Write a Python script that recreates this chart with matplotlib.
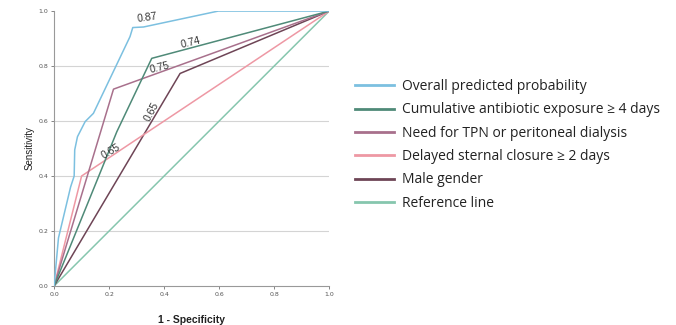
import numpy as np
import matplotlib
matplotlib.use("Agg")
import matplotlib.pyplot as plt
from matplotlib.lines import Line2D

# ROC curve data
overall_fpr = [0.0, 0.016, 0.06, 0.073, 0.075, 0.085, 0.113, 0.143, 0.276, 0.286, 0.325, 0.597, 1.0]
overall_tpr = [0.0, 0.175, 0.36, 0.40, 0.495, 0.543, 0.598, 0.628, 0.907, 0.94, 0.942, 1.0, 1.0]
abx_fpr = [0.0, 0.228, 0.355, 1.0]
abx_tpr = [0.0, 0.561, 0.828, 1.0]
tpn_fpr = [0.0, 0.216, 1.0]
tpn_tpr = [0.0, 0.716, 1.0]
sternal_fpr = [0.0, 0.1, 1.0]
sternal_tpr = [0.0, 0.4, 1.0]
male_fpr = [0.0, 0.458, 1.0]
male_tpr = [0.0, 0.773, 1.0]
ref_fpr = [0.0, 1.0]
ref_tpr = [0.0, 1.0]

names = ['Overall predicted probability',
         'Cumulative antibiotic exposure \u2265 4 days',
         'Need for TPN or peritoneal dialysis',
         'Delayed sternal closure \u2265 2 days',
         'Male gender',
         'Reference line']
colors = ['#7cc0e0', '#4f8a78', '#a8708c', '#ee98a4', '#6e4556', '#86c6ae']

# AUC labels: text, x, y, rotation
auc_text = ['0.87', '0.74', '0.75', '0.65', '0.65']
auc_x = [0.34, 0.495, 0.385, 0.355, 0.205]
auc_y = [0.975, 0.885, 0.795, 0.635, 0.49]
auc_rot = [8, 14, 14, 62, 30]

fig = plt.figure(figsize=(6.76, 3.25), dpi=100)
ax = fig.add_axes([0.08, 0.12, 0.407, 0.846])

series = [(overall_fpr, overall_tpr), (abx_fpr, abx_tpr), (tpn_fpr, tpn_tpr),
          (sternal_fpr, sternal_tpr), (male_fpr, male_tpr), (ref_fpr, ref_tpr)]
# draw reference first so it sits underneath
order = [5, 4, 3, 2, 1, 0]
for i in order:
    fx, ty = series[i]
    ax.plot(fx, ty, color=colors[i], lw=1.1, zorder=3)

for t, x, y, r in zip(auc_text, auc_x, auc_y, auc_rot):
    ax.text(x, y, t, fontsize=7.5, rotation=r, ha='center', va='center',
            color='#333333', family='Liberation Sans', zorder=4)

ax.set_xlim(0, 1)
ax.set_ylim(0, 1)
ticks = [0.0, 0.2, 0.4, 0.6, 0.8, 1.0]
ax.set_xticks(ticks)
ax.set_yticks(ticks)
ax.set_xticklabels(['%.1f' % t for t in ticks])
ax.set_yticklabels(['%.1f' % t for t in ticks])
ax.tick_params(labelsize=4.5, colors='#555555', length=2, width=0.5, pad=2)
for gy in [0.2, 0.4, 0.6, 0.8]:
    ax.axhline(gy, color='#d4d4d4', lw=0.8, zorder=1)
ax.spines['top'].set_visible(False)
ax.spines['right'].set_visible(False)
ax.spines['left'].set_color('#999999')
ax.spines['bottom'].set_color('#999999')
ax.set_xlabel('1 - Specificity', fontsize=7.5, fontweight='bold', family='Liberation Sans',
              color='#222222', labelpad=13)
ax.set_ylabel('Sensitivity', fontsize=7, family='Liberation Sans', color='#222222', labelpad=3)

handles = [Line2D([0], [0], color=c, lw=2) for c in colors]
fig.legend(handles, names, loc='upper left', bbox_to_anchor=(0.506, 0.795), frameon=False,
           prop={'family': 'Open Sans', 'size': 10}, handlelength=2.85, handletextpad=0.55,
           labelspacing=0.6, labelcolor='#222222')

fig.savefig('out.png', dpi=100)
